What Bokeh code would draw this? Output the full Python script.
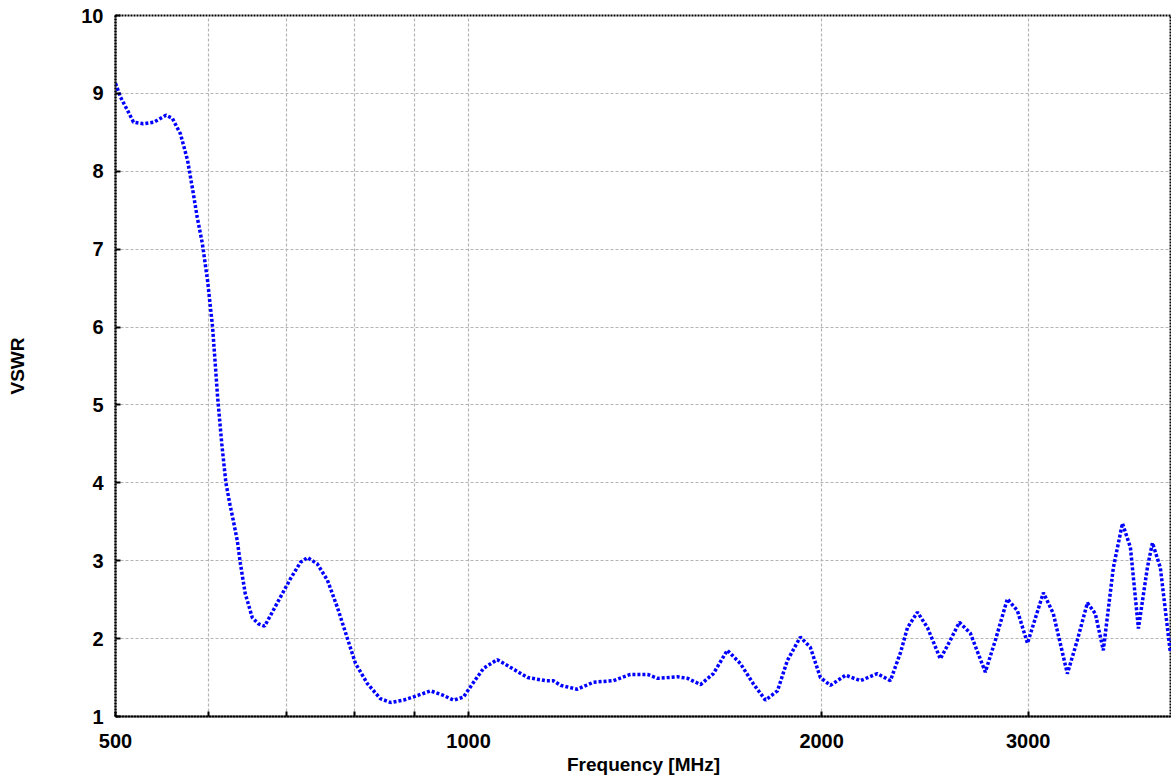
from bokeh.plotting import figure
from bokeh.models import FixedTicker, Range1d
from bokeh.embed import file_html
from bokeh.resources import INLINE

# Frequency [MHz] and VSWR
freq = [500, 505, 512, 518, 528, 539, 552, 559, 568, 576, 582, 587, 593, 599, 605,
        611, 616, 621, 626, 630, 635, 639, 645, 654, 662, 670, 678, 691, 705, 719, 729,
        743, 758, 773, 788, 801, 820, 841, 858, 880, 905, 928, 952, 971, 990, 1010,
        1030, 1058, 1086, 1123, 1163, 1181, 1198, 1238, 1278, 1329, 1374, 1421, 1449,
        1507, 1537, 1577, 1617, 1662, 1705, 1749, 1791, 1834, 1870, 1918, 1956, 1995,
        2035, 2096, 2158, 2231, 2289, 2335, 2367, 2414, 2462, 2525, 2575, 2621, 2678,
        2758, 2813, 2880, 2937, 2996, 3091, 3152, 3240, 3304, 3370, 3423, 3477, 3546,
        3610, 3667, 3725, 3791, 3829, 3889, 3966]
vswr = [9.13, 8.95, 8.78, 8.63, 8.61, 8.63, 8.72, 8.68, 8.48, 8.14, 7.75, 7.41, 7.07, 6.60, 6.00,
        5.10, 4.50, 4.00, 3.72, 3.52, 3.26, 2.96, 2.58, 2.27, 2.19, 2.16, 2.30, 2.53, 2.77, 2.98, 3.04,
        2.96, 2.75, 2.40, 2.01, 1.68, 1.42, 1.23, 1.18, 1.21, 1.27, 1.33, 1.27, 1.21, 1.25, 1.44,
        1.62, 1.73, 1.63, 1.50, 1.46, 1.46, 1.40, 1.35, 1.44, 1.46, 1.54, 1.54, 1.49,
        1.51, 1.49, 1.41, 1.55, 1.85, 1.68, 1.42, 1.21, 1.33, 1.72, 2.02, 1.89, 1.50,
        1.40, 1.53, 1.46, 1.55, 1.46, 1.82, 2.14, 2.34, 2.14, 1.74, 1.98, 2.21, 2.07,
        1.57, 1.98, 2.51, 2.36, 1.94, 2.59, 2.32, 1.55, 1.98, 2.46, 2.32, 1.85, 2.91,
        3.48, 3.17, 2.13, 2.91, 3.23, 2.91, 1.82]

x_ticks = [500, 600, 700, 800, 900, 1000, 2000, 3000, 4000]
x_tick_labels = ["500", "", "", "", "", "1000", "2000", "3000", "4000"]
x_grid = [600, 700, 800, 900, 1000, 2000, 3000]
y_ticks = [1, 2, 3, 4, 5, 6, 7, 8, 9, 10]

FONT = "Liberation Sans"

p = figure(width=1171, height=781, x_axis_type="log",
           x_range=Range1d(500, 3975), y_range=Range1d(1, 10),
           output_backend="svg", toolbar_location=None,
           min_border_left=115, min_border_right=0, min_border_top=15, min_border_bottom=65,
           x_axis_label="Frequency [MHz]", y_axis_label="VSWR")

p.line(freq, vswr, line_color="#0000ff", line_width=3.5, line_dash="3 2")

p.xaxis.ticker = FixedTicker(ticks=x_ticks)
p.xaxis.major_label_overrides = {t: l for t, l in zip(x_ticks, x_tick_labels)}
p.yaxis.ticker = FixedTicker(ticks=y_ticks)

p.xgrid.ticker = FixedTicker(ticks=x_grid)
p.ygrid.ticker = FixedTicker(ticks=y_ticks)
p.grid.grid_line_color = "#b4b4b4"
p.grid.grid_line_dash = "3 2"
p.grid.grid_line_width = 1.2

for ax in p.axis:
    ax.axis_line_color = "black"
    ax.axis_line_width = 2
    ax.axis_line_dash = "2 1"
    ax.major_tick_in = 5
    ax.major_tick_out = 0
    ax.major_tick_line_color = "black"
    ax.major_tick_line_width = 2
    ax.minor_tick_line_color = None
    ax.major_label_text_font = FONT
    ax.major_label_text_font_style = "bold"
    ax.major_label_text_font_size = "20px"
    ax.major_label_text_color = "black"
    ax.axis_label_text_font = FONT
    ax.axis_label_text_font_style = "bold"
    ax.axis_label_text_font_size = "19px"
    ax.axis_label_text_color = "black"

p.xaxis.major_label_standoff = 17
p.xaxis.axis_label_standoff = 3
p.yaxis.major_label_standoff = 12
p.yaxis.axis_label_standoff = 50

p.outline_line_color = "black"
p.outline_line_width = 2
p.outline_line_dash = "2 1"
p.background_fill_color = "white"
p.border_fill_color = "white"

open("out.html", "w").write(file_html(p, INLINE))
